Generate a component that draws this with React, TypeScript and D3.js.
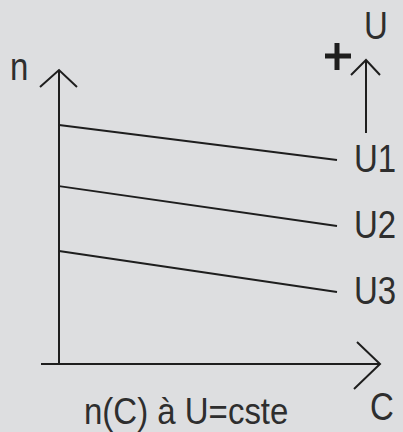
import React from "react";
import * as d3 from "d3";

// Speed n against torque C, for three constant voltages U1 > U2 > U3
const series = ["U1", "U2", "U3"];
const cValues = [0, 10];
const nU1 = [8.13, 6.94];
const nU2 = [6.05, 4.69];
const nU3 = [3.84, 2.45];
const seriesValues = [nU1, nU2, nU3];

const W = 403;
const H = 432;
const ink = "#1e1e1e";
const font = "'Liberation Sans', Arial, sans-serif";

export default function App() {
  const x = d3.scaleLinear().domain([0, 10]).range([59, 337]);
  const y = d3.scaleLinear().domain([0, 10]).range([364, 70]);
  const line = d3
    .line<number>()
    .x((_, i) => x(cValues[i]))
    .y((d) => y(d));

  const x0 = x(0);
  const y0 = y(0);
  const tipY = 70;
  const tipX = 380;

  return (
    <svg
      width={W}
      height={H}
      style={{ position: "absolute", left: 0, top: 0, background: "#dddee0" }}
    >
      <rect width={W} height={H} fill="#dddee0" />
      {/* axes */}
      <g stroke={ink} strokeWidth={2} fill="none">
        <line x1={x0} y1={y0} x2={x0} y2={tipY} />
        <polyline points={`${x0 - 19},${tipY + 17} ${x0},${tipY} ${x0 + 18},${tipY + 17}`} />
        <line x1={41} y1={y0} x2={tipX} y2={y0} />
        <polyline points={`${tipX - 23},${y0 - 22} ${tipX},${y0} ${tipX - 26},${y0 + 25}`} />
      </g>
      {/* voltage direction arrow */}
      <g stroke={ink} strokeWidth={2} fill="none">
        <line x1={366} y1={133} x2={366} y2={60} />
        <polyline points="351,75 366,60 380,75" />
      </g>
      <g stroke={ink} strokeWidth={5}>
        <line x1={325} y1={56} x2={351} y2={56} />
        <line x1={337} y1={43} x2={337} y2={70} />
      </g>
      {/* curves */}
      {seriesValues.map((vals, i) => (
        <path key={series[i]} d={line(vals) || ""} stroke={ink} strokeWidth={2} fill="none" />
      ))}
      {/* labels */}
      <g fill="#2e2e2e" fontFamily={font} fontSize={33}>
        {seriesValues.map((vals, i) => (
          <text
            key={series[i]}
            transform={`translate(${x(10) + 17},${y(vals[1]) + 12}) scale(1,1.15)`}
          >
            {series[i]}
          </text>
        ))}
        <text transform="translate(10,80) scale(1,1.15)">n</text>
        <text transform="translate(364,39) scale(1,1.15)">U</text>
        <text transform="translate(370,420) scale(1,1.15)">C</text>
        <text transform="translate(84,424) scale(1,1.1)">n(C) à U=cste</text>
      </g>
    </svg>
  );
}
